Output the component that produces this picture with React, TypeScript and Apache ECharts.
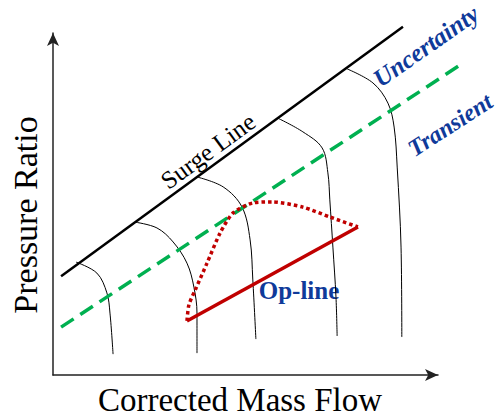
import React, { useEffect, useRef } from "react";
import * as echarts from "echarts";

// Data in normalized chart units (Corrected Mass Flow, Pressure Ratio); the drawn axes span 0..10
const surgeLine: number[][] = [[0.21, 2.89], [9.09, 10.18]];
const transientLine: number[][] = [[0.21, 1.4], [10.65, 9.12]];
const opLine: number[][] = [[3.48, 1.58], [7.92, 4.33]];
const transientPath: number[][] = [
  [3.48, 1.58], [3.53, 2.05], [3.7, 2.5], [4.0, 3.27], [4.34, 4.15],
  [4.68, 4.74], [5.19, 5.03], [5.69, 5.06], [6.49, 4.91], [7.19, 4.62], [7.92, 4.33],
];
const speed1: number[][] = [[0.6, 3.3], [1.14, 2.98], [1.4, 2.4], [1.48, 1.81], [1.56, 0.61]];
const speed2: number[][] = [[2.13, 4.47], [2.7, 4.3], [3.12, 3.89], [3.48, 3.27], [3.66, 2.57], [3.74, 1.81], [3.74, 0.64]];
const speed3: number[][] = [[3.74, 5.79], [4.42, 5.5], [4.91, 4.91], [5.12, 3.95], [5.19, 2.78], [5.27, 1.05]];
const speed4: number[][] = [[5.84, 7.51], [6.49, 7.11], [6.99, 6.64], [7.14, 5.91], [7.19, 5.12], [7.27, 3.74], [7.35, 2.28], [7.38, 1.14]];
const speed5: number[][] = [[7.64, 8.95], [8.31, 8.54], [8.7, 7.95], [8.86, 7.25], [8.94, 6.08], [9.04, 3.74], [9.06, 1.11]];
const speedLines = [speed1, speed2, speed3, speed4, speed5];

const xAxisTitle = "Corrected Mass Flow";
const yAxisTitle = "Pressure Ratio";
const labels = { surge: "Surge Line", uncertainty: "Uncertainty", transient: "Transient", op: "Op-line" };

const SERIF = "'Liberation Serif', 'DejaVu Serif', serif";
const BLUE = "#0f3a9a";

export default function App() {
  const ref = useRef<HTMLDivElement>(null);
  useEffect(() => {
    if (!ref.current) return;
    const chart = echarts.init(ref.current, undefined, { renderer: "svg" });
    const deg = Math.PI / 180;
    // grid 0: visible arrowed axes (0..10); grid 1: same scale, extended to the canvas edge for drawing
    const W = 497, H = 417;
    const left = 53, bottom = 42, axRight = 59, axTop = 33;
    const pxPerX = (W - left - axRight) / 10;
    const pxPerY = (H - bottom - axTop) / 10;
    const xMaxData = (W - left) / pxPerX;
    const yMaxData = (H - bottom) / pxPerY;
    const hidden = {
      axisTick: { show: false },
      axisLabel: { show: false },
      splitLine: { show: false },
    };
    const visibleLine = {
      show: true,
      symbol: ["none", "arrow"],
      symbolSize: [9, 13],
      lineStyle: { color: "#222", width: 1.5 },
    };
    const lineSeries = (data: number[][], lineStyle: any, smooth: number | boolean = false) => ({
      type: "line",
      xAxisIndex: 1,
      yAxisIndex: 1,
      data,
      smooth,
      symbol: "none",
      clip: false,
      lineStyle,
    });
    chart.setOption({
      animation: false,
      backgroundColor: "#fff",
      grid: [
        { left, right: axRight, top: axTop, bottom },
        { left, right: 0, top: 0, bottom },
      ],
      xAxis: [
        { type: "value", gridIndex: 0, min: 0, max: 10, ...hidden, axisLine: visibleLine },
        { type: "value", gridIndex: 1, min: 0, max: xMaxData, ...hidden, axisLine: { show: false } },
      ],
      yAxis: [
        { type: "value", gridIndex: 0, min: 0, max: 10, ...hidden, axisLine: visibleLine },
        { type: "value", gridIndex: 1, min: 0, max: yMaxData, ...hidden, axisLine: { show: false } },
      ],
      series: [
        ...speedLines.map((d) => lineSeries(d, { color: "#000", width: 1 }, 0.35)),
        lineSeries(surgeLine, { color: "#000", width: 2.5 }),
        lineSeries(transientLine, { color: "#00b050", width: 3.5, type: [15, 8] }),
        lineSeries(opLine, { color: "#c00000", width: 3.5 }),
        lineSeries(transientPath, { color: "#c00000", width: 3.5, type: [3.5, 3] }, 0.25),
      ],
      graphic: [
        {
          type: "text",
          x: 240,
          y: 400,
          style: { text: xAxisTitle, font: `33px ${SERIF}`, fill: "#000", align: "center", verticalAlign: "middle" },
        },
        {
          type: "text",
          x: 25,
          y: 215,
          rotation: 90 * deg,
          style: { text: yAxisTitle, font: `34px ${SERIF}`, fill: "#000", align: "center", verticalAlign: "middle" },
        },
        {
          type: "text",
          x: 208,
          y: 151,
          rotation: 36 * deg,
          style: { text: labels.surge, font: `25px ${SERIF}`, fill: "#000", align: "center", verticalAlign: "middle" },
        },
        {
          type: "text",
          x: 426,
          y: 46,
          rotation: 35 * deg,
          style: { text: labels.uncertainty, font: `italic bold 25px ${SERIF}`, fill: BLUE, align: "center", verticalAlign: "middle" },
        },
        {
          type: "text",
          x: 450,
          y: 125,
          rotation: 33 * deg,
          style: { text: labels.transient, font: `italic bold 24px ${SERIF}`, fill: BLUE, align: "center", verticalAlign: "middle" },
        },
        {
          type: "text",
          x: 299,
          y: 290,
          style: { text: labels.op, font: `bold 25px ${SERIF}`, fill: BLUE, align: "center", verticalAlign: "middle" },
        },
      ],
    });
    return () => chart.dispose();
  }, []);
  return <div ref={ref} style={{ position: "fixed", left: 0, top: 0, width: 497, height: 417 }} />;
}
